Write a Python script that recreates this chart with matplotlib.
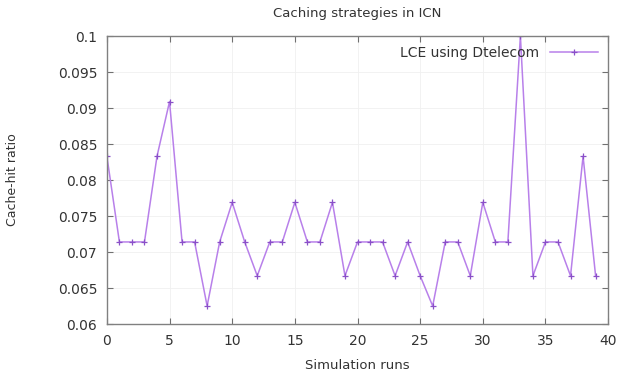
import matplotlib
matplotlib.use("Agg")
import matplotlib.pyplot as plt

# cache-hit ratio for each simulation run
runs = list(range(40))
hit_ratio = [0.0833, 0.0714, 0.0714, 0.0714, 0.0833, 0.0909, 0.0714, 0.0714, 0.0625, 0.0714,
             0.0769, 0.0714, 0.0667, 0.0714, 0.0714, 0.0769, 0.0714, 0.0714, 0.0769, 0.0667,
             0.0714, 0.0714, 0.0714, 0.0667, 0.0714, 0.0667, 0.0625, 0.0714, 0.0714, 0.0667,
             0.0769, 0.0714, 0.0714, 0.1, 0.0667, 0.0714, 0.0714, 0.0667, 0.0833, 0.0667]

xticks = [0, 5, 10, 15, 20, 25, 30, 35, 40]
yticks = [0.06, 0.065, 0.07, 0.075, 0.08, 0.085, 0.09, 0.095, 0.1]
ytick_labels = ["0.06", "0.065", "0.07", "0.075", "0.08", "0.085", "0.09", "0.095", "0.1"]

fig = plt.figure(figsize=(6.25, 3.72), dpi=100)
ax = fig.add_axes([0.171, 0.129, 0.802, 0.774])

ax.plot(runs, hit_ratio, color="#b880ea", linewidth=1.1, marker="+",
        markersize=5, markeredgewidth=0.9, markeredgecolor="#8a50c8",
        label="LCE using Dtelecom")

ax.set_xlim(0, 40)
ax.set_ylim(0.06, 0.1)
ax.set_xticks(xticks)
ax.set_yticks(yticks)
ax.set_yticklabels(ytick_labels)
ax.grid(True, color="#f0f0f0", linewidth=0.6)

ax.tick_params(direction="in", top=True, right=True, length=4, width=0.8,
               colors="#707070", labelcolor="#333333", labelsize=10, pad=7)
for s in ax.spines.values():
    s.set_color("#808080")
    s.set_linewidth(1.0)

ax.set_title("Caching strategies in ICN", fontsize=9.5, color="#333333", pad=14)
ax.set_xlabel("Simulation runs", fontsize=9.5, color="#333333", labelpad=8)
ax.set_ylabel("Cache-hit ratio", fontsize=9, color="#333333", labelpad=28)

leg = ax.legend(loc="upper right", frameon=False, fontsize=10, markerfirst=False,
                handlelength=3.5, borderaxespad=0.3, labelcolor="#333333")

plt.savefig("out.png", dpi=100)
